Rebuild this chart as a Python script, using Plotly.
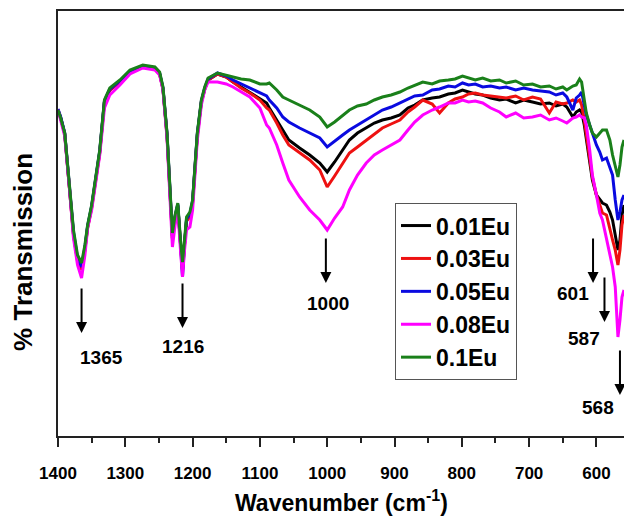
import plotly.graph_objects as go

# Wavenumber grid (cm^-1)
wavenumber = [1400, 1396, 1390, 1383, 1377, 1371, 1365, 1360, 1356, 1350, 1344, 1338, 1331, 1323,
              1308, 1293, 1274, 1256, 1249, 1244, 1238, 1234, 1230, 1226, 1222, 1218, 1215, 1212,
              1209, 1204, 1200, 1193, 1187, 1182, 1177, 1163,
              1150, 1140, 1128, 1115, 1100, 1090, 1086, 1075, 1066, 1057, 1041, 1026, 1011, 1000,
              989, 977, 967, 955, 942, 930, 918, 905, 892, 880, 870, 858, 844, 833, 820, 810, 799,
              790, 780, 769, 757, 744, 734, 720, 708, 695, 683, 670, 660, 650, 644, 635, 630, 625,
              622, 618, 615, 610, 606, 600, 595, 591, 585, 580, 576, 572, 568, 565, 562, 559]

# Transmission (arbitrary units)
t_001 = [326, 318, 302, 251, 202, 176, 167, 187, 209, 229, 256, 284, 334, 346, 354, 364, 369, 367,
         362, 347, 301, 250, 198, 219, 231, 193, 166, 192, 216, 220, 234, 301, 334, 347, 356, 362,
         359, 354, 349, 344, 338, 333, 328, 316, 306, 296, 288, 281, 273, 264, 274, 286, 296, 303,
         308, 313, 316, 318, 321, 328, 331, 336, 338, 339, 342, 343, 346, 344, 342, 341, 338, 336,
         337, 333, 336, 334, 332, 333, 330, 332, 329, 319, 324, 326, 324, 311, 296, 271, 256, 241,
         236, 233, 231, 224, 216, 201, 186, 196, 221, 231]
t_003 = [326, 318, 302, 250, 201, 175, 166, 186, 208, 228, 255, 283, 334, 346, 354, 364, 369, 367,
         362, 347, 300, 249, 197, 218, 230, 192, 165, 191, 215, 219, 233, 300, 334, 347, 356, 362,
         359, 354, 348, 343, 336, 328, 326, 313, 301, 291, 283, 276, 266, 249, 260, 273, 283, 289,
         296, 302, 308, 312, 316, 324, 329, 336, 332, 323, 333, 337, 339, 342, 343, 341, 340, 339,
         338, 340, 336, 339, 337, 323, 334, 332, 333, 336, 334, 336, 331, 316, 301, 276, 259, 241,
         231, 223, 221, 206, 196, 186, 171, 186, 211, 221]
t_005 = [327, 319, 303, 252, 204, 178, 169, 189, 210, 230, 257, 285, 335, 347, 355, 365, 370, 368,
         363, 348, 302, 251, 200, 220, 232, 192, 159, 192, 217, 222, 235, 302, 335, 348, 357, 363,
         360, 356, 352, 348, 343, 340, 336, 328, 319, 314, 308, 303, 298, 289, 295, 301, 306, 311,
         316, 321, 326, 329, 333, 337, 340, 341, 346, 347, 350, 349, 353, 351, 352, 349, 350, 348,
         349, 346, 348, 346, 345, 344, 341, 343, 339, 326, 338, 341, 344, 331, 321, 311, 303, 291,
         284, 276, 278, 269, 261, 236, 216, 224, 236, 241]
t_008 = [326, 316, 300, 248, 198, 171, 158, 181, 208, 226, 254, 281, 328, 341, 351, 362, 368, 366,
         361, 346, 298, 246, 189, 211, 226, 186, 159, 186, 206, 209, 226, 296, 331, 346, 354, 354,
         352, 349, 344, 339, 328, 311, 308, 291, 273, 256, 239, 226, 216, 206, 218, 229, 246, 261,
         273, 281, 286, 291, 296, 306, 314, 321, 326, 329, 333, 333, 336, 334, 335, 333, 328, 324,
         319, 323, 318, 319, 321, 316, 318, 315, 313, 318, 319, 321, 319, 318, 311, 286, 261, 241,
         223, 216, 196, 181, 169, 149, 99, 116, 139, 146]
t_010 = [326, 318, 303, 253, 206, 181, 173, 191, 211, 231, 258, 286, 336, 348, 356, 366, 371, 369,
         364, 349, 303, 253, 203, 221, 233, 196, 174, 196, 219, 224, 236, 303, 336, 349, 358, 363,
         361, 359, 357, 356, 352, 352, 353, 346, 339, 336, 331, 326, 319, 309, 314, 321, 326, 330,
         332, 336, 339, 341, 344, 348, 351, 354, 352, 355, 356, 357, 360, 358, 356, 358, 355, 356,
         353, 355, 351, 352, 349, 350, 347, 349, 346, 350, 351, 357, 354, 336, 323, 311, 303, 299,
         303, 306, 306, 296, 281, 271, 259, 271, 289, 296]

series_names = ["0.01Eu", "0.03Eu", "0.05Eu", "0.08Eu", "0.1Eu"]
series_values = [t_001, t_003, t_005, t_008, t_010]
series_colors = ["#000000", "#ee1111", "#0a0ae0", "#ff00ff", "#1a801a"]

# Peak markers
peak_labels = ["1365", "1216", "1000", "601", "587", "568"]
peak_x = [1365, 1215, 1002, 605, 588, 565]
peak_y = [103, 108, 153, 153, 114, 41]
label_x = [1335, 1215, 999, 635, 619, 597]
label_y = [79, 90, 133, 143, 98, 29]

FONT = "Arial, Liberation Sans, sans-serif"

fig = go.Figure()
for name, vals, col in zip(series_names, series_values, series_colors):
    fig.add_trace(go.Scatter(x=wavenumber, y=vals, mode="lines", name=name,
                             line=dict(color=col, width=3)))

annotations = []
for lab, px_, py_, lx, ly in zip(peak_labels, peak_x, peak_y, label_x, label_y):
    annotations.append(dict(x=px_, y=py_, xref="x", yref="y", text="", showarrow=True,
                            ax=0, ay=-46, arrowhead=2, arrowsize=1.1, arrowwidth=2,
                            arrowcolor="black", standoff=0))
    annotations.append(dict(x=lx, y=ly, xref="x", yref="y", text=lab, showarrow=False,
                            font=dict(family=FONT, size=19, color="black", weight="bold")))

annotations.append(dict(x=0.5, y=-0.152, xref="paper", yref="paper",
                        text="Wavenumber (cm<sup>-1</sup>)", showarrow=False,
                        xanchor="center", yanchor="middle",
                        font=dict(family=FONT, size=23, color="black", weight="bold")))
annotations.append(dict(x=-0.062, y=0.433, xref="paper", yref="paper",
                        text="% Transmission", showarrow=False, textangle=-90,
                        xanchor="center", yanchor="middle",
                        font=dict(family=FONT, size=26, color="black", weight="bold")))

fig.update_layout(
    width=624, height=516,
    margin=dict(l=58, r=0, t=11, b=80),
    paper_bgcolor="white", plot_bgcolor="white",
    showlegend=True,
    legend=dict(x=0.5954, y=0.548, xanchor="left", yanchor="top",
                bordercolor="#555555", borderwidth=1, bgcolor="white",
                font=dict(family=FONT, size=23, color="black", weight="bold")),
    annotations=annotations,
)
fig.update_xaxes(range=[1400, 559], autorange=False, showgrid=False, zeroline=False,
                 showline=True, linecolor="#222222", linewidth=2, mirror=True,
                 ticks="outside", ticklen=9, tickwidth=2, tickcolor="#222222",
                 tickvals=[1400, 1300, 1200, 1100, 1000, 900, 800, 700, 600],
                 minor=dict(tickvals=[1350, 1250, 1150, 1050, 950, 850, 750, 650],
                            ticks="outside", ticklen=5, tickwidth=2, tickcolor="#222222"),
                 ticklabelstandoff=12,
                 tickfont=dict(family=FONT, size=17, color="black", weight="bold"))
fig.update_yaxes(range=[0, 425], autorange=False, showgrid=False, zeroline=False,
                 showline=True, linecolor="#222222", linewidth=2, mirror=False,
                 showticklabels=False, ticks="")

fig.write_html("out.html", config={"displayModeBar": False},
               post_script="document.body.style.margin='0px';document.body.style.overflow='hidden';")
